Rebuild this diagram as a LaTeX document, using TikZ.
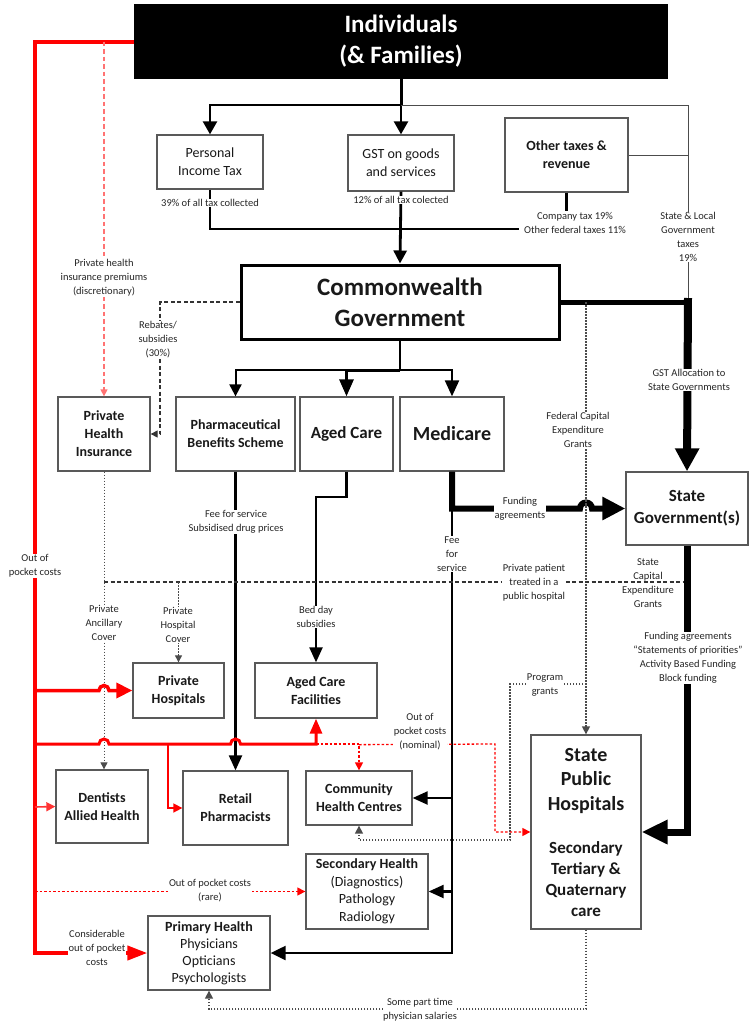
\documentclass[tikz,border=0pt]{standalone}
\usepackage{fontspec}
\setmainfont{Carlito}
\usetikzlibrary{arrows.meta}
\newcommand\fsz[2]{\fontsize{#1}{#2}\selectfont}
\begin{document}
\begin{tikzpicture}[x=1pt,y=-1pt,
  box/.style={draw=black!65, line width=1.3pt, fill=white, align=center, inner sep=1pt, text=black!90, font=\fsz{14}{18}\bfseries},
  rbox/.style={box, font=\fsz{14}{18}},
  txt/.style={align=center, inner sep=0pt, text=black!90},
  lbl/.style={font=\fsz{10.5}{14}, align=center, fill=white, inner sep=0.6pt, text=black!85},
  ah/.style 2 args={-{Triangle[length=#1pt,width=#2pt]}},
  pk/.style={draw=red!55, dash pattern=on 4.5pt off 3pt, line width=1.3pt},
  rdash/.style={draw=red, dash pattern=on 2.5pt off 2pt, line width=1.3pt},
  gdot/.style={draw=black!70, dash pattern=on 1.5pt off 1.5pt, line width=1.4pt},
  gdash/.style={draw=black!80, dash pattern=on 4pt off 2.5pt, line width=1.1pt},
]
\useasboundingbox (0,0) rectangle (750,1026);

% ---------- boxes ----------
\node[box, fill=black, draw=black, text=white, font=\fsz{25}{31}\bfseries, minimum width=532pt, minimum height=73pt] (ind) at (401,41.5) {Individuals\\(\& Families)};
\node[rbox, minimum width=106pt, minimum height=54pt] (pit) at (210,162) {Personal\\Income Tax};
\node[rbox, minimum width=106pt, minimum height=56pt] (gst) at (401,163) {GST on goods\\and services};
\node[box, minimum width=123pt, minimum height=74pt] (oth) at (566.5,155) {Other taxes \&\\revenue};
\node[box, line width=3pt, draw=black, font=\fsz{25}{31}\bfseries, minimum width=318pt, minimum height=74pt] (cw) at (400,302) {Commonwealth\\Government};
\node[box, minimum width=92pt, minimum height=74pt] (phi) at (104,434) {Private\\Health\\Insurance};
\node[box, minimum width=119pt, minimum height=74pt] (pbs) at (235.5,434) {Pharmaceutical\\Benefits Scheme};
\node[box, font=\fsz{17}{20}\bfseries, minimum width=93pt, minimum height=74pt] (age) at (346.5,434) {Aged Care};
\node[box, font=\fsz{20}{24}\bfseries, minimum width=104pt, minimum height=74pt] (med) at (452,434) {Medicare};
\node[box, font=\fsz{17}{22}\bfseries, minimum width=122pt, minimum height=73pt] (sg) at (687,508.5) {State\\Government(s)};
\node[box, minimum width=91pt, minimum height=55pt] (phos) at (178.5,690.5) {Private\\Hospitals};
\node[box, minimum width=122pt, minimum height=55pt] (acf) at (316,690.5) {Aged Care\\Facilities};
\node[box, minimum width=92pt, minimum height=73pt] (den) at (102,806.5) {Dentists\\Allied Health};
\node[box, minimum width=105pt, minimum height=74pt] (ret) at (235.5,808) {Retail\\Pharmacists};
\node[box, minimum width=106pt, minimum height=54pt] (chc) at (359,798) {Community\\Health Centres};
\node[rbox, font=\fsz{14}{17.5}, minimum width=122pt, minimum height=75pt] (sec) at (367,891.5) {\textbf{Secondary Health}\\(Diagnostics)\\Pathology\\Radiology};
\node[rbox, font=\fsz{14}{17}, minimum width=122pt, minimum height=74pt] (pri) at (209,953) {\textbf{Primary Health}\\Physicians\\Opticians\\Psychologists};
\node[box, minimum width=110pt, minimum height=194pt] (pub) at (586,832) {};
\node[txt, font=\fsz{20}{24.5}\bfseries] (pubt1) at (586,781) {State\\Public\\Hospitals};
\node[txt, font=\fsz{17}{21}\bfseries] (pubt2) at (586,879) {Secondary\\Tertiary \&\\Quaternary\\care};

% ---------- Individuals to taxes ----------
\coordinate (j1) at (401,105);
\coordinate (sl) at (688,105);
\draw[line width=3pt] (ind.south) -- (j1);
\draw[line width=2.5pt, ah={13}{14}] (j1) -| (pit.north);
\draw[line width=2.5pt, ah={13}{14}] (j1) -- (gst.north);
\draw[line width=0.9pt, draw=black!70] (j1) -- (sl) -- (688,299);
\draw[line width=0.9pt, draw=black!70] (oth.east) -- (oth.east -| sl);
\node[lbl] (slt) at (688,237) {State \& Local\\Government\\taxes\\19\%};

% ---------- taxes to Commonwealth ----------
\draw[line width=2.2pt] (pit.south) |- (519,229);
\draw[line width=2.2pt] (oth.south) -- ++(0,18);
\node[lbl] (pitl) at (210,203) {39\% of all tax collected};
\node[lbl] (ctl) at (575,223) {Company tax 19\%\\Other federal taxes 11\%};
\draw[line width=2.8pt, ah={13}{13}] (gst.south) -- (cw.north);
\node[lbl] (gstl) at (401,200) {12\% of all tax colected};

% ---------- Commonwealth to State ----------
\draw[line width=5pt] (cw.east) -- (692,302);
\draw[line width=8pt, ah={23}{23}] (688,298) -- (sg.north);
\node[lbl] (gsta) at (689,380) {GST Allocation to\\State Governments};

% ---------- rebates ----------
\draw[gdash, ah={7}{7}] (cw.west) -- (160,302) |- (phi.east);
\node[lbl] (reb) at (158,340) {Rebates/\\subsidies\\(30\%)};

% ---------- red trunk ----------
\draw[draw=red, line width=4pt, ah={20}{14}] (ind.west) -- (35,41.5) |- (pri.west);
\node[lbl] (oop) at (35,566) {Out of\\pocket costs};
\node[lbl] (cop) at (97,948) {Considerable\\out of pocket\\costs};
\draw[pk, ah={7}{7}] (phi.north |- ind.west) -- (phi.north);
\node[lbl] (phip) at (104,278) {Private health\\insurance premiums\\(discretionary)};

% ---------- Commonwealth programmes ----------
\coordinate (cj) at (400,370);
\draw[line width=2.5pt] (cw.south) -- (cj);
\draw[line width=2pt, ah={12}{12}] (cj) -| (pbs.north);
\draw[line width=3pt, ah={17}{14}] (cj) -| (age.north);
\draw[line width=2.2pt, ah={16}{14}] (cj) -| (med.north);

% PBS
\draw[line width=2.2pt, ah={15}{13}] (pbs.south) -- (ret.north);
\node[lbl] (fee1) at (236,522) {Fee for service\\Subsidised drug prices};

% Aged care
\draw[line width=2.2pt, ah={15}{13}] (age.south) -- (346.5,497) -| (acf.north);
\node[lbl] (bed) at (316,617) {Bed day\\subsidies};

% Medicare
\coordinate (mj) at (452,508.5);
\draw[line width=6pt, ah={23}{22}] (med.south) -- (mj) -- (580,508.5) arc[start angle=180,end angle=0,radius=6pt] -- (sg.west);
\node[lbl] (fa) at (520,509) {Funding\\agreements};
\draw[line width=2.2pt, ah={15}{14}] (mj) |- (pri.east);
\draw[line width=2.2pt, ah={15}{13}] (mj |- chc.east) -- (chc.east);
\draw[line width=2.2pt, ah={15}{13}] (mj |- sec.east) -- (sec.east);
\node[lbl] (fee2) at (452,554) {Fee\\for\\service};

% ---------- State to public hospitals ----------
\draw[line width=7pt, ah={26}{23}] (sg.south) |- (pub.east);
\node[lbl] (scg) at (648,583) {State\\Capital\\Expenditure\\Grants};
\node[lbl] (fag) at (688,658) {Funding agreements\\“Statements of priorities”\\Activity Based Funding\\Block funding};

% ---------- federal capital ----------
\draw[gdot, ah={8}{8}] (pub.north |- cw.east) -- (pub.north);
\node[lbl] (fcg) at (578,430) {Federal Capital\\Expenditure\\Grants};

% program grants
\coordinate (pg) at (586,684);
\draw[gdot, ah={8}{8}] (pg) -- (510,684) -- (510,840) -| (chc.south);
\node[lbl] (pgl) at (545,685) {Program\\grants};

% ---------- private insurance ----------
\coordinate (pp) at (104,582);
\draw[gdash] (pp) -- (684,582);
\node[lbl] (ppl) at (534,583) {Private patient\\treated in a\\public hospital};
\draw[gdot, line width=0.9pt, ah={7}{7}] (phi.south) -- (phi.south |- den.north);
\node[lbl] (pac) at (104,623) {Private\\Ancillary\\Cover};
\draw[gdot, line width=0.9pt, ah={7}{7}] (phos.north |- pp) -- (phos.north);
\node[lbl] (phc) at (178,625) {Private\\Hospital\\Cover};

% ---------- red out of pocket ----------
\draw[draw=red, line width=3.5pt, ah={16}{15}] (35,690.5) -- (99,690.5) arc[start angle=180,end angle=0,radius=5pt] -- (phos.west);
\draw[draw=red, line width=3pt, ah={15}{12}] (35,744) -- (99,744) arc[start angle=180,end angle=0,radius=5pt] -- (230.5,744) arc[start angle=180,end angle=0,radius=5pt] -- (316,744) -- (acf.south);
\draw[draw=red, line width=1.6pt, ah={9}{9}] (168,744) |- (ret.west);
\draw[draw=red!80, line width=1.6pt, ah={9}{9}] (35,807) -- (den.west);
\draw[rdash, ah={8}{8}] (316,744) -| (chc.north);
\draw[rdash, ah={8}{8}] (chc.north |- acf.south) ++(0,26) -- (495,744) |- (pub.west);
\node[lbl] (oopn) at (420,731.5) {Out of\\pocket costs\\(nominal)};
\draw[rdash, ah={8}{8}] (35,891.5) -- (sec.west);
\node[lbl] (oopr) at (210,891) {Out of pocket costs\\(rare)};

% ---------- part-time salaries ----------
\coordinate (sp) at (586,1009);
\draw[gdot, ah={8}{8}] (pub.south) -- (sp) -| (pri.south);
\node[lbl] (spl) at (420,1010) {Some part time\\physician salaries};
\end{tikzpicture}
\end{document}
